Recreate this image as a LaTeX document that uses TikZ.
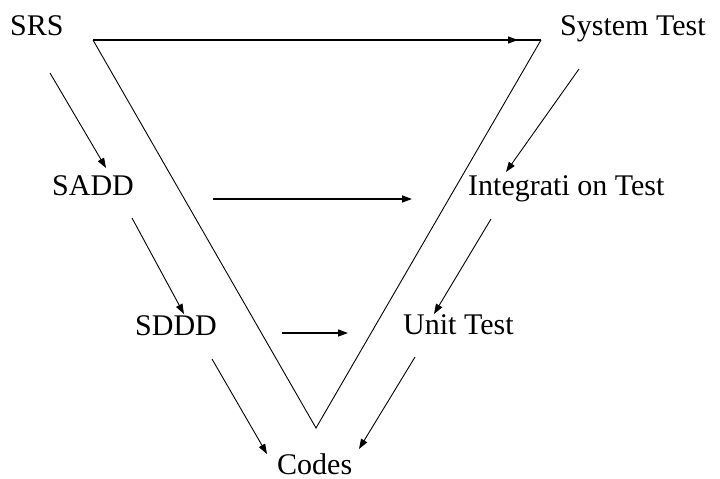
\documentclass[tikz,border=0pt]{standalone}
\usepackage{fontspec}
\setmainfont{Liberation Serif}
\usetikzlibrary{arrows.meta}
\begin{document}
\begin{tikzpicture}[x=1pt,y=-1pt,
  lbl/.style={anchor=base west,inner sep=0pt,font=\fontsize{30}{36}\selectfont},
  edge/.style={line width=0.9pt},
  arr/.style={line width=0.9pt,-{Triangle[length=10pt,width=7pt]}}]
\useasboundingbox (0,0) rectangle (720,479);
% labels
\node[lbl] (srs) at (10,35) {SRS};
\node[lbl] (sys) at (560,35) {System Test};
\node[lbl] (sadd) at (52,195) {SADD};
\node[lbl] (integ) at (468,195) {Integrati on Test};
\node[lbl] (sddd) at (135,335) {SDDD};
\node[lbl] (unit) at (403,334) {Unit Test};
\node[lbl] (codes) at (277,474) {Codes};
% triangle
\coordinate (tl) at (93,40);
\coordinate (tr) at (541,40);
\coordinate (bt) at (316,428);
\draw[edge] (tr) -- (bt) -- (tl);
\draw[line width=1.3pt] (tl) -- (tr);
\coordinate (topend) at (518,40);
\draw[arr,line width=1.3pt] (tl) -- (topend);
% endpoint coordinates
\coordinate (a1) at (50,73);   \coordinate (a2) at (106,168);
\coordinate (b1) at (132,218); \coordinate (b2) at (184,314);
\coordinate (c1) at (212,359); \coordinate (c2) at (267,454);
\coordinate (d1) at (579,69);  \coordinate (d2) at (506,172);
\coordinate (e1) at (491,219); \coordinate (e2) at (434,314);
\coordinate (f1) at (415,357); \coordinate (f2) at (359,449);
\coordinate (h1) at (213,199); \coordinate (h2) at (412,199);
\coordinate (k1) at (282,333); \coordinate (k2) at (348,333);
% arrows
\draw[arr] (a1) -- (a2);
\draw[arr] (b1) -- (b2);
\draw[arr] (c1) -- (c2);
\draw[arr] (d1) -- (d2);
\draw[arr] (e1) -- (e2);
\draw[arr] (f1) -- (f2);
\draw[arr,line width=1.3pt] (h1) -- (h2);
\draw[arr,line width=1.3pt] (k1) -- (k2);
\end{tikzpicture}
\end{document}
